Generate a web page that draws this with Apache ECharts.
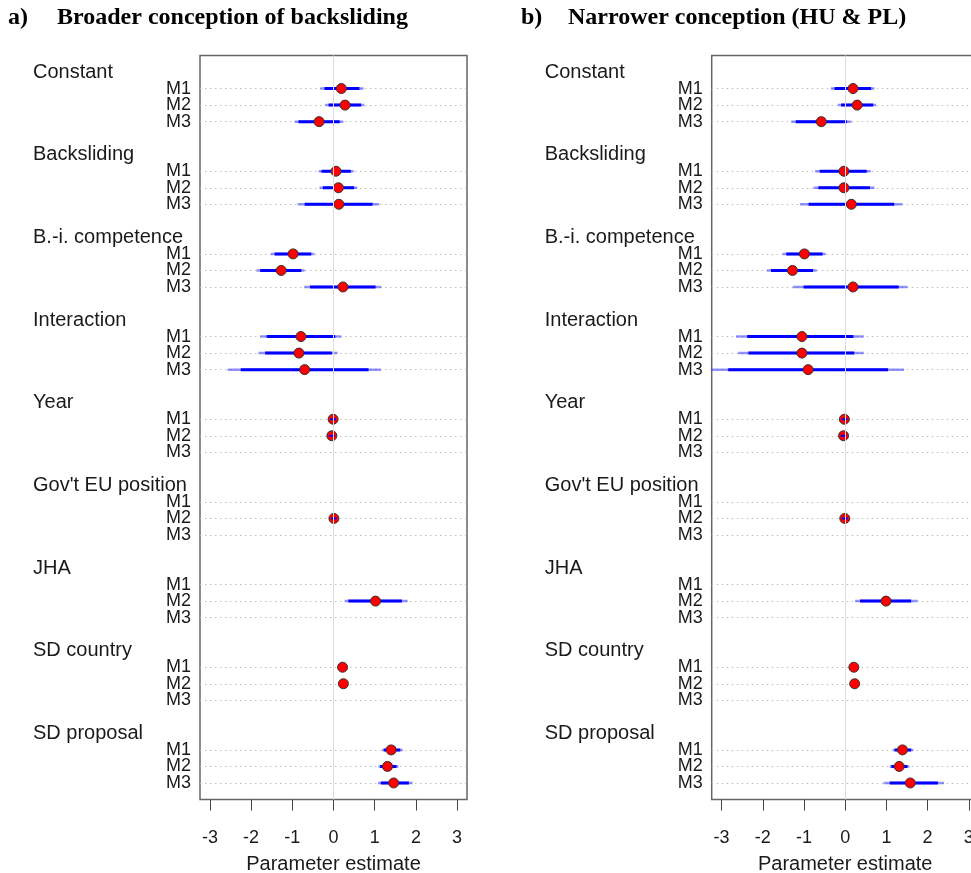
<!DOCTYPE html>
<html>
<head>
<meta charset="utf-8">
<script src="https://cdn.jsdelivr.net/npm/echarts@6/dist/echarts.min.js"></script>
<style>
html,body{margin:0;padding:0;background:#fff;}
#c{width:971px;height:873px;}
</style>
</head>
<body>
<div id="c"></div>
<script>
// ---- data ----
const groups = ['Constant', 'Backsliding', 'B.-i. competence', 'Interaction', 'Year', "Gov't EU position", 'JHA', 'SD country', 'SD proposal'];
const models = ['M1', 'M2', 'M3'];
const xTicks = [-3, -2, -1, 0, 1, 2, 3];
const panelTitles = ['Broader conception of backsliding', 'Narrower conception (HU & PL)'];
const panelLetters = ['a)', 'b)'];

// Panel a (order: group by group, M1..M3; null = not in model)
const aEst  = [0.19, 0.28, -0.35,  0.06, 0.12, 0.13,  -0.98, -1.27, 0.23,  -0.79, -0.84, -0.70,  -0.01, -0.04, null,  null, 0.01, null,  null, 1.02, null,  0.22, 0.24, null,  1.40, 1.31, 1.46];
const aLo95 = [-0.32, -0.20, -0.94, -0.36, -0.34, -0.87, -1.52, -1.87, -0.71, -1.78, -1.82, -2.57, -0.08, -0.11, null, null, -0.06, null, null, 0.27, null, 0.11, 0.13, null, 1.18, 1.09, 1.08];
const aHi95 = [0.73, 0.75, 0.24, 0.49, 0.58, 1.11, -0.46, -0.70, 1.16, 0.19, 0.10, 1.15, 0.06, 0.03, null, null, 0.08, null, null, 1.80, null, 0.33, 0.35, null, 1.68, 1.58, 1.92];
const aLo90 = [-0.22, -0.12, -0.85, -0.29, -0.26, -0.70, -1.43, -1.78, -0.57, -1.62, -1.66, -2.25, -0.07, -0.10, null, null, -0.05, null, null, 0.36, null, 0.13, 0.15, null, 1.22, 1.13, 1.15];
const aHi90 = [0.63, 0.67, 0.15, 0.42, 0.50, 0.95, -0.54, -0.78, 1.02, 0.04, -0.04, 0.85, 0.05, 0.02, null, null, 0.07, null, null, 1.66, null, 0.31, 0.33, null, 1.62, 1.53, 1.83];

// Panel b
const bEst  = [0.19, 0.29, -0.58,  -0.03, -0.03, 0.15,  -0.99, -1.28, 0.19,  -1.05, -1.05, -0.90,  -0.02, -0.04, null,  null, -0.01, null,  null, 0.99, null,  0.21, 0.23, null,  1.39, 1.31, 1.58];
const bLo95 = [-0.35, -0.18, -1.31, -0.73, -0.77, -1.10, -1.52, -1.90, -1.27, -2.65, -2.60, -3.30, -0.09, -0.11, null, null, -0.08, null, null, 0.24, null, 0.10, 0.12, null, 1.16, 1.08, 0.93];
const bHi95 = [0.71, 0.75, 0.15, 0.62, 0.71, 1.39, -0.47, -0.69, 1.51, 0.45, 0.45, 1.43, 0.05, 0.03, null, null, 0.06, null, null, 1.76, null, 0.32, 0.34, null, 1.65, 1.56, 2.40];
const bLo90 = [-0.26, -0.10, -1.20, -0.62, -0.65, -0.89, -1.43, -1.80, -1.01, -2.38, -2.35, -2.84, -0.08, -0.10, null, null, -0.07, null, null, 0.36, null, 0.12, 0.14, null, 1.20, 1.12, 1.08];
const bHi90 = [0.63, 0.68, 0.04, 0.52, 0.60, 1.19, -0.55, -0.78, 1.30, 0.20, 0.22, 1.04, 0.04, 0.02, null, null, 0.05, null, null, 1.60, null, 0.30, 0.32, null, 1.60, 1.51, 2.25];

// ---- layout helpers ----
const ROWS_PER_GROUP = 5;
const nRows = 1 + groups.length * ROWS_PER_GROUP; // top spacer + groups
const rowIds = [], mLabels = [], hLabels = [], isMRow = [];
for (let r = 0; r < nRows; r++) { rowIds.push('r' + r); mLabels.push(''); hLabels.push(''); isMRow.push(false); }
groups.forEach((g, gi) => {
  const base = 1 + gi * ROWS_PER_GROUP;
  hLabels[base] = g;
  models.forEach((m, mi) => { mLabels[base + 1 + mi] = m; isMRow[base + 1 + mi] = true; });
});
function rowOf(k) { return 1 + Math.floor(k / 3) * ROWS_PER_GROUP + 1 + (k % 3); }

const panels = [
  {est: aEst, lo95: aLo95, hi95: aHi95, lo90: aLo90, hi90: aHi90},
  {est: bEst, lo95: bLo95, hi95: bHi95, lo90: bLo90, hi90: bHi90}
];

const SANS = 'Liberation Sans, Arial, Helvetica, sans-serif';
const SERIF = 'Liberation Serif, Times New Roman, serif';
const gridLefts = [200, 711.7];
const GRID_W = 267, GRID_TOP = 55.5, GRID_H = 744;
const XMIN = -3.24, XMAX = 3.24;

const grids = [], xAxes = [], yAxes = [], series = [], titles = [];
panels.forEach((p, pi) => {
  grids.push({left: gridLefts[pi], top: GRID_TOP, width: GRID_W, height: GRID_H, show: true,
    borderColor: '#666', borderWidth: 1.5, backgroundColor: 'transparent', containLabel: false,
    outerBoundsMode: 'none'});
  xAxes.push({type: 'value', gridIndex: pi, min: XMIN, max: XMAX, position: 'bottom',
    axisLine: {show: false}, splitLine: {show: false},
    axisTick: {show: true, length: 11, customValues: xTicks, lineStyle: {color: '#444', width: 1}},
    axisLabel: {customValues: xTicks, fontSize: 18, color: '#1a1a1a', margin: 30, fontFamily: SANS,
      formatter: v => String(v)},
    name: 'Parameter estimate', nameLocation: 'middle', nameGap: 55,
    nameTextStyle: {fontSize: 20, color: '#1a1a1a', fontFamily: SANS}});
  yAxes.push({type: 'category', gridIndex: pi, position: 'left', data: rowIds, inverse: true, boundaryGap: false,
    axisLine: {show: false}, axisTick: {show: false},
    axisLabel: {interval: 0, formatter: (v, i) => mLabels[i], fontSize: 18, margin: 9, color: '#1a1a1a', fontFamily: SANS},
    splitLine: {show: true, interval: (i) => isMRow[i], lineStyle: {color: '#bdbdbd', width: 1, type: [1.5, 3.5]}}});
  yAxes.push({type: 'category', gridIndex: pi, position: 'left', offset: 0, data: rowIds, inverse: true, boundaryGap: false,
    axisLine: {show: false}, axisTick: {show: false}, splitLine: {show: false},
    axisLabel: {interval: 0, formatter: (v, i) => hLabels[i], fontSize: 20, margin: 167, align: 'left', color: '#1a1a1a', fontFamily: SANS}});

  const barData = [], ptData = [];
  p.est.forEach((e, k) => {
    if (e === null) return;
    const r = rowOf(k);
    barData.push([p.lo95[k], p.hi95[k], p.lo90[k], p.hi90[k], r]);
    ptData.push([e, r]);
  });
  const yIdx = pi * 2;
  // zero reference line
  series.push({type: 'scatter', xAxisIndex: pi, yAxisIndex: yIdx, data: [], z: 1, silent: true,
    markLine: {silent: true, symbol: 'none', label: {show: false}, animation: false,
      lineStyle: {color: '#dcdcdc', type: 'solid', width: 1}, data: [{xAxis: 0}]}});
  // intervals
  series.push({type: 'custom', xAxisIndex: pi, yAxisIndex: yIdx, data: barData, z: 2, clip: true, silent: true,
    encode: {x: [0, 1, 2, 3], y: 4},
    renderItem: (params, api) => {
      const y = api.value(4);
      const o1 = api.coord([api.value(0), y]), o2 = api.coord([api.value(1), y]);
      const i1 = api.coord([api.value(2), y]), i2 = api.coord([api.value(3), y]);
      return {type: 'group', children: [
        {type: 'line', shape: {x1: o1[0], y1: o1[1], x2: o2[0], y2: o2[1]}, style: {stroke: 'rgba(40,40,255,0.5)', lineWidth: 2.5}},
        {type: 'line', shape: {x1: i1[0], y1: i1[1], x2: i2[0], y2: i2[1]}, style: {stroke: '#0000ff', lineWidth: 3}}
      ]};
    }});
  // points
  series.push({type: 'scatter', xAxisIndex: pi, yAxisIndex: yIdx, data: ptData, z: 3, silent: true,
    symbol: 'circle', symbolSize: 10,
    itemStyle: {color: '#ff0000', borderColor: '#333', borderWidth: 1, opacity: 1}});
  // very short intervals visible on top of the points
  series.push({type: 'custom', xAxisIndex: pi, yAxisIndex: yIdx, data: barData, z: 4, clip: true, silent: true,
    encode: {x: [0, 1], y: 4},
    renderItem: (params, api) => {
      const y = api.value(4);
      const i1 = api.coord([api.value(0), y]), i2 = api.coord([api.value(1), y]);
      if (Math.abs(i2[0] - i1[0]) > 9) return null;
      return {type: 'line', shape: {x1: i1[0], y1: i1[1], x2: i2[0], y2: i2[1]}, style: {stroke: '#0000ff', lineWidth: 2}};
    }});
});

const titleStyle = {fontFamily: SERIF, fontWeight: 'bold', fontSize: 24, color: '#000'};
titles.push({text: panelLetters[0], left: 8, top: 6, padding: 0, textStyle: titleStyle});
titles.push({text: panelTitles[0], left: 57, top: 6, padding: 0, textStyle: titleStyle});
titles.push({text: panelLetters[1], left: 521, top: 6, padding: 0, textStyle: titleStyle});
titles.push({text: panelTitles[1], left: 568, top: 6, padding: 0, textStyle: titleStyle});

const chart = echarts.init(document.getElementById('c'), null, {renderer: 'canvas'});
chart.setOption({
  animation: false,
  backgroundColor: '#fff',
  title: titles,
  grid: grids,
  xAxis: xAxes,
  yAxis: yAxes,
  series: series
});
</script>
</body>
</html>
